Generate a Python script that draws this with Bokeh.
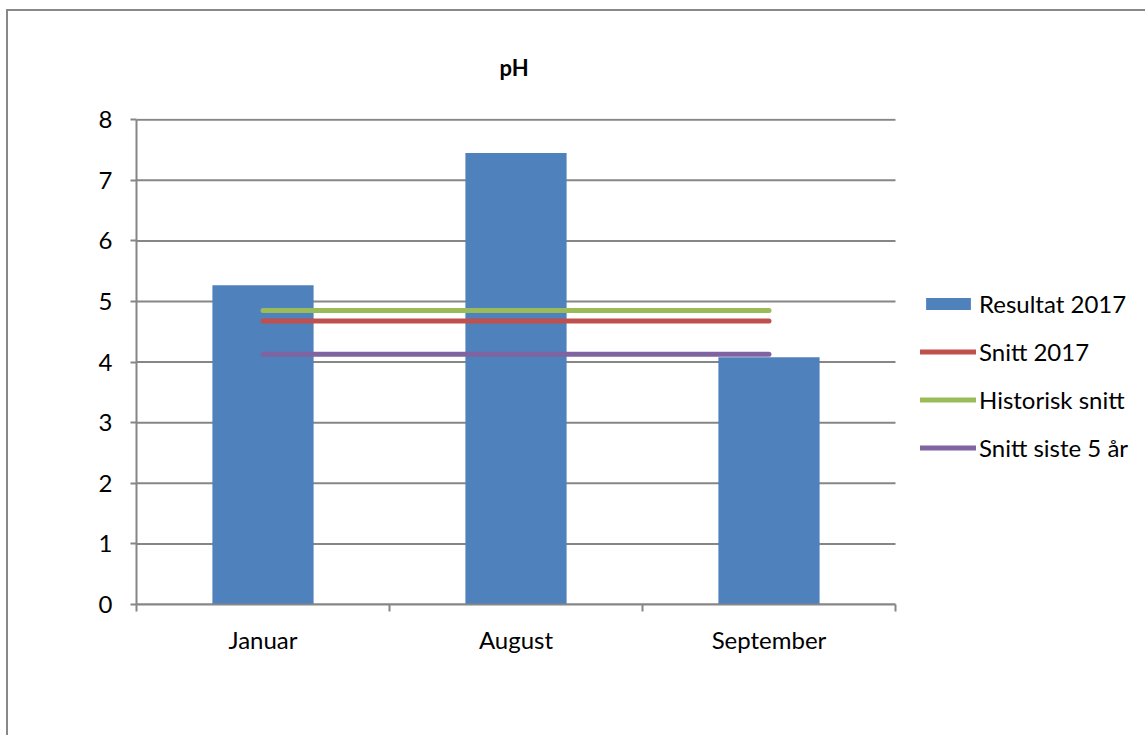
from bokeh.plotting import figure
from bokeh.models import Range1d, FixedTicker, Legend, LegendItem
from bokeh.embed import file_html
from bokeh.resources import INLINE

categories = ["Januar", "August", "September"]
resultat_2017 = [5.27, 7.45, 4.08]
snitt_2017 = [4.68, 4.68, 4.68]
historisk_snitt = [4.85, 4.85, 4.85]
snitt_siste_5 = [4.13, 4.13, 4.13]
y_ticks = [0, 1, 2, 3, 4, 5, 6, 7, 8]

FONT = "Lato"
GRID = "#868686"

n = len(categories)
xpos = [i + 0.5 for i in range(n)]
bounds = [i for i in range(n + 1)]

# plot area spans 759 px for the categories; the frame continues to the right
# (1011 px) so the legend can sit inside it
x_end = n * 1011 / 759

p = figure(width=1139, height=726, output_backend="svg", toolbar_location=None,
           x_range=Range1d(0, x_end), y_range=Range1d(0, 8.02),
           min_border_left=128, min_border_right=0, min_border_top=107,
           min_border_bottom=133, title="pH")
p.styles = {"margin-left": "6px", "margin-top": "9px",
            "border-left": "2px solid #888888", "border-top": "2px solid #888888"}
p.outline_line_color = None
p.background_fill_color = "white"
p.border_fill_color = "white"

p.title.align = "left"
p.title.offset = 363
p.title.text_font = FONT
p.title.text_font_size = "22px"
p.title.text_font_style = "bold"
p.title.text_color = "black"
p.title.standoff = 76

p.xgrid.grid_line_color = None
p.ygrid.grid_line_color = None
p.segment(x0=[0] * len(y_ticks), x1=[n] * len(y_ticks), y0=y_ticks, y1=y_ticks,
          line_color=GRID, line_width=2)

bars = p.vbar(x=xpos, top=resultat_2017, width=0.4, fill_color="#4F81BD", line_color=None)
l1 = p.line(xpos, snitt_2017, line_color="#C0504D", line_width=5, line_cap="round")
l2 = p.line(xpos, historisk_snitt, line_color="#9BBB59", line_width=5, line_cap="round")
l3 = p.line(xpos, snitt_siste_5, line_color="#8064A2", line_width=5, line_cap="round")

# x axis
p.xaxis.bounds = (0, n)
p.xaxis.ticker = FixedTicker(ticks=xpos, minor_ticks=bounds)
p.xaxis.major_label_overrides = {x: c for x, c in zip(xpos, categories)}
p.xaxis.major_tick_out = 0
p.xaxis.major_tick_in = 0
p.xaxis.minor_tick_out = 7
p.xaxis.minor_tick_in = 0
p.xaxis.minor_tick_line_color = GRID
p.xaxis.minor_tick_line_width = 2
p.xaxis.axis_line_color = GRID
p.xaxis.axis_line_width = 2
p.xaxis.major_label_text_font = FONT
p.xaxis.major_label_text_font_size = "24px"
p.xaxis.major_label_text_color = "black"
p.xaxis.major_label_standoff = 13

# y axis
p.yaxis.bounds = (0, 8)
p.yaxis.ticker = FixedTicker(ticks=y_ticks, minor_ticks=[])
p.yaxis.major_tick_out = 6
p.yaxis.major_tick_in = 0
p.yaxis.major_tick_line_color = GRID
p.yaxis.major_tick_line_width = 2
p.yaxis.axis_line_color = GRID
p.yaxis.axis_line_width = 2
p.yaxis.major_label_text_font = FONT
p.yaxis.major_label_text_font_size = "24px"
p.yaxis.major_label_text_color = "black"
p.yaxis.major_label_standoff = 18

legend = Legend(items=[
    LegendItem(label="Resultat 2017", renderers=[bars]),
    LegendItem(label="Snitt 2017", renderers=[l1]),
    LegendItem(label="Historisk snitt", renderers=[l2]),
    LegendItem(label="Snitt siste 5 år", renderers=[l3]),
], location=(784, 142))
legend.border_line_color = None
legend.background_fill_alpha = 0
legend.padding = 0
legend.margin = 0
legend.glyph_width = 56
legend.glyph_height = 15
legend.label_height = 20
legend.spacing = 19
legend.label_standoff = 3
legend.label_text_font = FONT
legend.label_text_font_size = "24px"
legend.label_text_color = "black"
p.add_layout(legend, "center")

open("out.html", "w").write(file_html(p, INLINE))
